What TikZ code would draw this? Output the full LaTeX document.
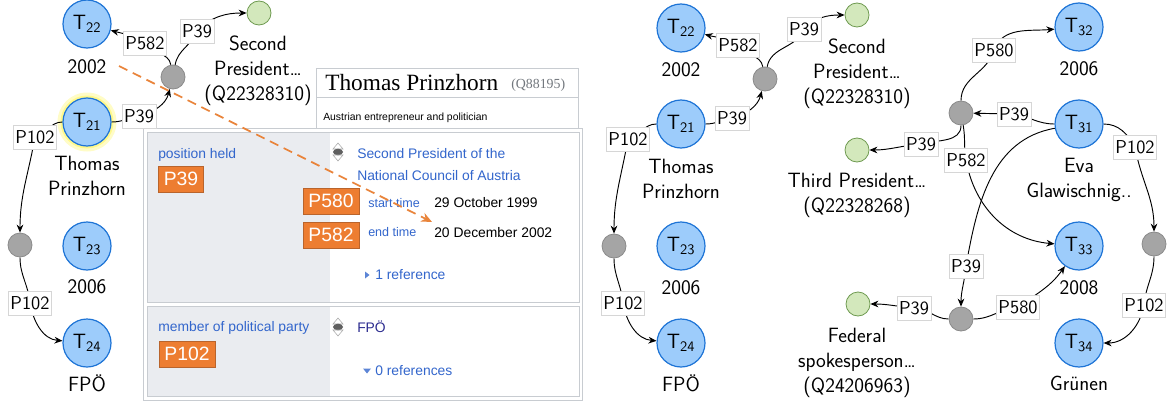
\documentclass[tikz,border=0pt]{standalone}
\usepackage{fontspec}
\newfontfamily\wdsans{Liberation Sans}
\newfontfamily\wdserif{Liberation Serif}
\usetikzlibrary{arrows.meta,backgrounds}
\definecolor{tblue}{HTML}{1E74D6}
\definecolor{tfill}{HTML}{9DCCFB}
\definecolor{hubf}{HTML}{A5A5A5}
\definecolor{hubd}{HTML}{8A8A8A}
\definecolor{entf}{HTML}{D3E8BC}
\definecolor{entd}{HTML}{6E9A50}
\definecolor{lblb}{HTML}{D6D6D6}
\definecolor{wdorange}{HTML}{ED7D31}
\definecolor{wdorangeb}{HTML}{B9642C}
\definecolor{wdlink}{HTML}{3366CC}
\definecolor{wdvisited}{HTML}{2B2B8F}
\definecolor{wdgray}{HTML}{EAECF0}
\definecolor{wdborder}{HTML}{C8CCD1}
\definecolor{wdgraytext}{HTML}{72777D}
\definecolor{dasho}{HTML}{E9843B}
\newcommand\gfont{\sffamily\fontsize{14}{18.75}\selectfont}
\newcommand\tfont{\sffamily\fontsize{15.5}{18.75}\selectfont}
\newcommand\wdfont{\wdsans\fontsize{10.4}{12.5}\selectfont}
\newcommand\wdsmall{\wdsans\fontsize{9.4}{11}\selectfont}
\tikzset{
  tnode/.style={circle, draw=tblue, fill=tfill, line width=0.9pt, minimum size=36pt, inner sep=0pt, font=\tfont},
  hub/.style={circle, draw=hubd, fill=hubf, line width=0.6pt, minimum size=18pt, inner sep=0pt},
  ent/.style={circle, draw=entd, fill=entf, line width=0.6pt, minimum size=18pt, inner sep=0pt},
  lbl/.style={draw=lblb, fill=white, line width=0.4pt, inner xsep=1.5pt, inner ysep=0pt, minimum height=18pt, font=\gfont},
  txt/.style={font=\tfont, align=center, inner sep=0pt},
  arr/.style={-{Stealth[length=6pt,width=5pt]}, line width=0.7pt, black},
  wdp/.style={fill=wdorange, draw=wdorangeb, text=white, font=\wdsans\fontsize{14.5}{16}\selectfont, inner xsep=4pt, inner ysep=0pt, minimum height=19.5pt, line width=0.6pt},
  wdt/.style={anchor=west, inner sep=0pt, font=\wdfont},
  wdicon/.pic={
    \draw[gray!70, line width=0.4pt] (-5,3) -- (5,3) -- (0,9) -- cycle;
    \fill[gray!75!black] (0,0) ellipse (5 and 3.3);
    \draw[gray!70, line width=0.4pt] (-5,-3) -- (5,-3) -- (0,-9) -- cycle;
  },
  dasharr/.style={dasho, line width=1.3pt, dash pattern=on 7pt off 4.5pt, -{Stealth[length=8pt,width=7pt]}},
}
\begin{document}
\begin{tikzpicture}[x=0.75pt,y=0.75pt]
\useasboundingbox (0,0) rectangle (1173,-403);

% ---------------- Wikidata panel ----------------
\draw[wdborder, fill=white] (316,-68) rectangle (578,-128);
\draw[wdborder] (316,-97) -- (578,-97);
\node[anchor=west, inner sep=0pt, font=\wdserif\fontsize{17.5}{20}\selectfont] (wdtitle) at (325,-83) {Thomas Prinzhorn};
\node[anchor=west, inner sep=0pt, font=\wdserif\fontsize{10.4}{12}\selectfont, text=wdgraytext] (wdq) at (511,-85) {(Q88195)};
\node[anchor=west, inner sep=0pt, font=\wdsans\fontsize{7.8}{9}\selectfont] (wddesc) at (323,-118) {Austrian entrepreneur and politician};

\draw[wdborder, fill=white] (143,-128) rectangle (582,-400);
\fill[wdgray] (147,-132) rectangle (330,-302);
\draw[wdborder] (147,-132) rectangle (579,-302);
\fill[wdgray] (147,-306) rectangle (330,-396);
\draw[wdborder] (147,-306) rectangle (579,-396);

\node[wdt, text=wdlink] (wdph) at (158,-155) {position held};
\node[wdp] (wdp39) at (181,-179) {P39};
\pic at (338,-152) {wdicon};
\node[wdt, text=wdlink] (wdsp1) at (357,-154) {Second President of the};
\node[wdt, text=wdlink] (wdsp2) at (357,-176) {National Council of Austria};
\node[wdp] (wdp580) at (331,-201) {P580};
\node[wdt, text=wdlink, font=\wdsmall] (wdst) at (368,-203) {start time};
\node[wdt] (wdsd) at (434,-203) {29 October 1999};
\node[wdp] (wdp582) at (331,-235) {P582};
\node[wdt, text=wdlink, font=\wdsmall] (wdet) at (368,-232) {end time};
\node[wdt] (wded) at (434,-233) {20 December 2002};
\fill[wdlink!80] (365,-271.5) -- (365,-278.5) -- (369.5,-275) -- cycle;
\node[wdt, text=wdlink] (wdref1) at (375,-275) {1 reference};

\node[wdt, text=wdlink] (wdmp) at (158,-328) {member of political party};
\node[wdp] (wdp102) at (187,-354) {P102};
\pic at (338,-327) {wdicon};
\node[wdt, text=wdvisited] (wdfpo) at (357,-327) {FPÖ};
\fill[wdlink!80] (363,-368.5) -- (371,-368.5) -- (367,-373.5) -- cycle;
\node[wdt, text=wdlink] (wdref0) at (375,-371) {0 references};

% ---------------- Left graph ----------------
\node[tnode] (LT22) at (87,-24) {T\textsubscript{22}};
\node[tnode] (LT21) at (87,-122) {T\textsubscript{21}};
\node[tnode] (LT23) at (87,-246) {T\textsubscript{23}};
\node[tnode] (LT24) at (87,-343) {T\textsubscript{24}};
\node[hub] (Lh1) at (173,-77) {};
\node[hub] (Lh2) at (20,-245) {};
\node[ent] (Lg1) at (259,-13) {};
\node[txt] (Lt22) at (87,-67) {2002};
\node[txt, anchor=north] (Lt21) at (87,-156) {Thomas\\Prinzhorn};
\node[txt] (Lt23) at (87,-287) {2006};
\node[txt] (Lt24) at (87,-383) {FPÖ};
\node[txt, anchor=north] (Ltg1) at (258,-36) {Second\\President\ldots\\(Q22328310)};
\node[lbl] (L1) at (139,-116) {P39};
\node[lbl] (L2) at (145,-43) {P582};
\node[lbl] (L3) at (197,-31) {P39};
\node[lbl] (L4) at (35,-137) {P102};
\node[lbl] (L5) at (30,-303) {P102};

% ---------------- Right graph ----------------
\node[tnode] (RT22) at (681,-28) {T\textsubscript{22}};
\node[tnode] (RT21) at (681,-124) {T\textsubscript{21}};
\node[tnode] (RT23) at (681,-246) {T\textsubscript{23}};
\node[tnode] (RT24) at (681,-343) {T\textsubscript{24}};
\node[hub] (Rh1) at (765,-79) {};
\node[hub] (Rh2) at (614,-246) {};
\node[ent] (Rg1) at (857,-15) {};
\node[txt] (Rt22) at (681,-70) {2002};
\node[txt, anchor=north] (Rt21) at (681,-159) {Thomas\\Prinzhorn};
\node[txt] (Rt23) at (681,-288) {2006};
\node[txt] (Rt24) at (681,-383) {FPÖ};
\node[txt, anchor=north] (Rtg1) at (857,-39) {Second\\President\ldots\\(Q22328310)};
\node[lbl] (R1) at (732,-118) {P39};
\node[lbl] (R2) at (738,-45) {P582};
\node[lbl] (R3) at (804,-29) {P39};
\node[lbl] (R4) at (628,-139) {P102};
\node[lbl] (R5) at (623,-303) {P102};

% ---------------- Eva cluster ----------------
\node[tnode] (T32) at (1079,-27) {T\textsubscript{32}};
\node[tnode] (T31) at (1079,-124) {T\textsubscript{31}};
\node[tnode] (T33) at (1079,-246) {T\textsubscript{33}};
\node[tnode] (T34) at (1079,-343) {T\textsubscript{34}};
\node[hub] (h3) at (961,-113) {};
\node[hub] (h4) at (961,-319) {};
\node[hub] (h5) at (1154,-244) {};
\node[ent] (g2) at (857,-150) {};
\node[ent] (g3) at (858,-304) {};
\node[txt] (t32) at (1079,-69) {2006};
\node[txt, anchor=north] (t31) at (1079,-158) {Eva\\Glawischnig..};
\node[txt] (t33) at (1079,-288) {2008};
\node[txt] (t34) at (1079,-383) {Grünen};
\node[txt, anchor=north] (tg2) at (857,-173) {Third President\ldots\\(Q22328268)};
\node[txt, anchor=north] (tg3) at (857,-328) {Federal\\spokesperson\ldots\\(Q24206963)};
\node[lbl] (E1) at (1014,-114) {P39};
\node[lbl] (E2) at (994,-50) {P580};
\node[lbl] (E3) at (921,-144) {P39};
\node[lbl] (E4) at (966,-160) {P582};
\node[lbl] (E5) at (966,-266) {P39};
\node[lbl] (E6) at (914,-308) {P39};
\node[lbl] (E7) at (1018,-307) {P580};
\node[lbl] (E8) at (1135,-147) {P102};
\node[lbl] (E9) at (1144,-305) {P102};

\begin{pgfonlayer}{background}
  \fill[yellow!22] (LT21) circle (29.5);
  \fill[yellow!45] (LT21) circle (26.5);
  % left edges
  \draw[arr] (LT21) to[out=0,in=190] (L1.center) to[out=15,in=-105] (Lh1);
  \draw[arr] (Lh1) to[out=100,in=-60] (L2.center) to[out=145,in=-15] (LT22);
  \draw[arr] (Lh1) to[out=80,in=-110] (L3.center) to[out=45,in=180] (Lg1);
  \draw[arr] (LT21) to[out=180,in=15] (L4.center) to[out=-100,in=90] (Lh2);
  \draw[arr] (Lh2) to[out=-90,in=95] (L5.center) to[out=-80,in=175] (LT24);
  % right edges
  \draw[arr] (RT21) to[out=0,in=190] (R1.center) to[out=15,in=-105] (Rh1);
  \draw[arr] (Rh1) to[out=100,in=-60] (R2.center) to[out=145,in=-15] (RT22);
  \draw[arr] (Rh1) to[out=80,in=-110] (R3.center) to[out=45,in=180] (Rg1);
  \draw[arr] (RT21) to[out=180,in=15] (R4.center) to[out=-100,in=90] (Rh2);
  \draw[arr] (Rh2) to[out=-90,in=95] (R5.center) to[out=-80,in=175] (RT24);
  % Eva edges
  \draw[arr] (T31) to[out=180,in=-10] (E1.center) -- (h3);
  \draw[arr] (h3) to[out=90,in=-105] (E2.center) to[out=70,in=185] (T32);
  \draw[arr] (h3) to[out=-90,in=15] (E3.center) to[out=185,in=0] (g2);
  \draw[arr] (h3) to[out=-80,in=100] (E4.center) to[out=-80,in=175] (T33);
  \draw[arr] (T31) to[out=190,in=80] (E5.center) to[out=-95,in=90] (h4);
  \draw[arr] (h4) to[out=180,in=0] (E6.center) to[out=175,in=0] (g3);
  \draw[arr] (h4) to[out=0,in=185] (E7.center) to[out=35,in=-125] (T33);
  \draw[arr] (T31) to[out=0,in=120] (E8.center) to[out=-80,in=90] (h5);
  \draw[arr] (h5) to[out=-90,in=85] (E9.center) to[out=-100,in=0] (T34);
\end{pgfonlayer}

% dashed link from graph to Wikidata panel
\coordinate (dstart) at (119,-66);
\coordinate (dend) at (432,-222);
\draw[dasharr] (dstart) -- (dend);
\end{tikzpicture}
\end{document}
